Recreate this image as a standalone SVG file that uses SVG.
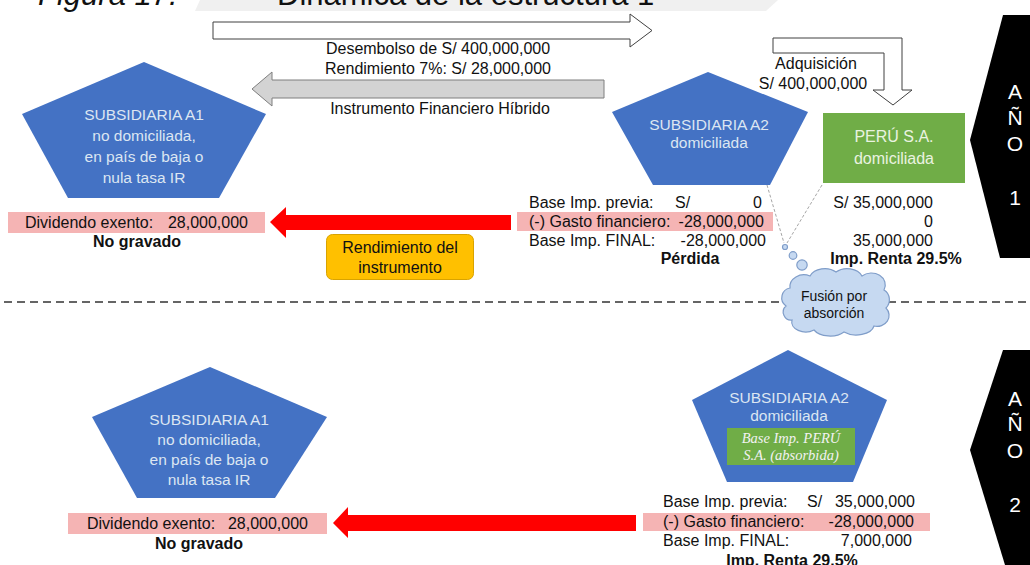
<svg xmlns="http://www.w3.org/2000/svg" width="1030" height="565" viewBox="0 0 1030 565">
  <style>
    text { font-family: "Liberation Sans", Arial, sans-serif; }
    .t16 { font-size: 16px; fill: #111; }
    .b16 { font-size: 16px; font-weight: bold; fill: #111; }
    .pent { fill: #4472C4; }
    .pent-t { font-size: 15.5px; fill: #DCE6F2; text-anchor: middle; }
    .green { fill: #70AD47; }
    .pink { fill: #F5B4B4; }
    .red { fill: #FF0000; }
    .hollow { fill: #FFFFFF; stroke: #404040; stroke-width: 1; }
    .year { fill: #000000; }
    .year-t { font-size: 21px; fill: #FFFFFF; text-anchor: middle; }
    .cloud { fill: #C6D9F1; stroke: #7F9DC9; stroke-width: 1.2; }
    .guide { stroke: #A6A6A6; stroke-width: 1; stroke-dasharray: 3 2; fill: none; }
    .serif-i { font-family: "Liberation Serif", "Times New Roman", serif; font-style: italic; font-size: 14.5px; fill: #F2F2F2; text-anchor: middle; }
    .r { text-anchor: end; }
    .m { text-anchor: middle; }
  </style>

  <rect width="1030" height="565" fill="#FFFFFF"/>

  <!-- caption strip at the top edge -->
  <g id="caption">
    <polygon points="200,0 778,0 766,11 195,11" fill="#F0F0F0"/>
    <text x="38" y="5" font-size="31" font-style="italic" fill="#111">Figura 17.</text>
    <text x="277" y="5" font-size="31" fill="#111">Dinámica de la estructura 1</text>
  </g>

  <!-- year bands -->
  <g id="year-1">
    <polygon class="year" points="1003,15 1030,15 1030,258 1000,258 970,140"/>
    <text class="year-t" x="1015" y="99">A</text>
    <text class="year-t" x="1015" y="125">Ñ</text>
    <text class="year-t" x="1015" y="151">O</text>
    <text class="year-t" x="1015" y="205">1</text>
  </g>
  <g id="year-2">
    <polygon class="year" points="1003,350 1030,350 1030,565 1005,565 970,450"/>
    <text class="year-t" x="1015" y="406">A</text>
    <text class="year-t" x="1015" y="431">Ñ</text>
    <text class="year-t" x="1015" y="458">O</text>
    <text class="year-t" x="1015" y="512">2</text>
  </g>

  <!-- separator between years -->
  <line x1="4" y1="302" x2="1030" y2="302" stroke="#333" stroke-width="1.5" stroke-dasharray="8 5"/>

  <g id="connectors">
    <!-- disbursement (right) -->
    <polygon class="hollow" points="213,22 630,22 630,14 652,30.5 630,47 630,39 213,39"/>
    <!-- yield (left) -->
    <polygon points="604,80 272,80 272,72 252,89 272,106 272,98 604,98" fill="#D3D3D3" stroke="#7F7F7F" stroke-width="1"/>
    <!-- acquisition (bent down) -->
    <polygon class="hollow" points="773,38 902,38 902,90 912,90 893,105 873,90 884,90 884,53 773,53"/>
    <!-- dividend arrows -->
    <polygon class="red" points="511,215 286,215 286,207 270,222 286,238 286,230 511,230"/>
    <polygon class="red" points="636,515 348,515 348,507 333,523 348,538 348,531 636,531"/>
    <!-- merger thought links -->
    <line class="guide" x1="767" y1="185" x2="784" y2="243"/>
    <line class="guide" x1="822" y1="185" x2="787" y2="243"/>
  </g>

  <g id="flow-labels">
    <text class="t16 m" x="438" y="54">Desembolso de S/ 400,000,000</text>
    <text class="t16 m" x="438" y="74">Rendimiento 7%: S/ 28,000,000</text>
    <text class="t16 m" x="440" y="114">Instrumento Financiero Híbrido</text>
    <text class="t16 m" x="816" y="69">Adquisición</text>
    <text class="t16 m" x="813" y="89">S/ 400,000,000</text>
  </g>

  <!-- Year 1 -->
  <g id="a1-year1">
    <polygon class="pent" points="144,62 266,114 219,198 68,198 22,114"/>
    <text class="pent-t" x="144" y="120">SUBSIDIARIA A1</text>
    <text class="pent-t" x="144" y="141">no domiciliada,</text>
    <text class="pent-t" x="144" y="162">en país de baja o</text>
    <text class="pent-t" x="144" y="183">nula tasa IR</text>
  </g>
  <g id="a1-year1-result">
    <rect class="pink" x="8" y="212" width="257" height="21"/>
    <text class="t16" x="25" y="228">Dividendo exento:</text>
    <text class="t16 r" x="248" y="228">28,000,000</text>
    <text class="b16 m" x="137" y="247">No gravado</text>
  </g>
  <g id="yield-note">
    <rect x="326.5" y="234.5" width="147" height="45" rx="6" fill="#FFC000" stroke="#D9A300" stroke-width="1"/>
    <text class="t16 m" x="400" y="253">Rendimiento del</text>
    <text class="t16 m" x="400" y="273">instrumento</text>
  </g>
  <g id="a2-year1">
    <polygon class="pent" points="708,72 808,112 770,185 653,185 612,112"/>
    <text class="pent-t" x="709" y="130">SUBSIDIARIA A2</text>
    <text class="pent-t" x="709" y="148">domiciliada</text>
  </g>
  <g id="peru-year1">
    <rect class="green" x="823" y="113" width="142" height="70"/>
    <text class="m" x="894" y="142" font-size="16" fill="#EAF3E0">PERÚ S.A.</text>
    <text class="m" x="894" y="164" font-size="16" fill="#EAF3E0">domiciliada</text>
  </g>
  <g id="a2-year1-table">
    <rect class="pink" x="517" y="212" width="256" height="19"/>
    <text class="t16" x="529" y="208">Base Imp. previa:</text>
    <text class="t16" x="675" y="208">S/</text>
    <text class="t16 r" x="762" y="208">0</text>
    <text class="t16" x="529" y="227">(-) Gasto financiero:</text>
    <text class="t16 r" x="764" y="227">-28,000,000</text>
    <text class="t16" x="529" y="246">Base Imp. FINAL:</text>
    <text class="t16 r" x="766" y="246">-28,000,000</text>
    <text class="b16 m" x="690" y="264">Pérdida</text>
  </g>
  <g id="peru-year1-table">
    <text class="t16 r" x="933" y="208">S/ 35,000,000</text>
    <text class="t16 r" x="933" y="227">0</text>
    <text class="t16 r" x="933" y="246">35,000,000</text>
    <text class="b16 m" x="896" y="264">Imp. Renta 29.5%</text>
  </g>

  <!-- merger bubble -->
  <g id="merger">
    <circle class="cloud" cx="785" cy="247" r="2.5"/>
    <circle class="cloud" cx="793" cy="255.5" r="3.8"/>
    <circle class="cloud" cx="802" cy="265" r="5.2"/>
    <path class="cloud" d="M786,306 a10,10 0 0 1 4,-18 a14,12 0 0 1 20,-12 a16,12 0 0 1 26,-4 a16,12 0 0 1 26,4 a14,12 0 0 1 22,14 a10,11 0 0 1 2,18 a12,11 0 0 1 -12,18 a18,11 0 0 1 -30,6 a18,11 0 0 1 -30,-2 a14,10 0 0 1 -22,-10 a8,8 0 0 1 -6,-14 Z"/>
    <text class="m" x="834" y="301" font-size="14" fill="#111">Fusión por</text>
    <text class="m" x="834" y="318" font-size="14" fill="#111">absorción</text>
  </g>

  <!-- Year 2 -->
  <g id="a1-year2">
    <polygon class="pent" points="210,367 327,417 275,498 137,498 92,417"/>
    <text class="pent-t" x="209" y="425">SUBSIDIARIA A1</text>
    <text class="pent-t" x="209" y="445">no domiciliada,</text>
    <text class="pent-t" x="209" y="465">en país de baja o</text>
    <text class="pent-t" x="209" y="485">nula tasa IR</text>
  </g>
  <g id="a1-year2-result">
    <rect class="pink" x="68" y="513" width="259" height="21"/>
    <text class="t16" x="87" y="529">Dividendo exento:</text>
    <text class="t16 r" x="308" y="529">28,000,000</text>
    <text class="b16 m" x="199" y="549">No gravado</text>
  </g>
  <g id="a2-year2">
    <polygon class="pent" points="788,350 887,400 853,482 727,482 692,400"/>
    <text class="pent-t" x="789" y="403">SUBSIDIARIA A2</text>
    <text class="pent-t" x="789" y="421">domiciliada</text>
    <rect class="green" x="727" y="428" width="128" height="37"/>
    <text class="serif-i" x="791" y="443">Base Imp. PERÚ</text>
    <text class="serif-i" x="791" y="460">S.A. (absorbida)</text>
  </g>
  <g id="a2-year2-table">
    <rect class="pink" x="643" y="513" width="287" height="18"/>
    <text class="t16" x="663" y="507">Base Imp. previa:</text>
    <text class="t16" x="807" y="507">S/</text>
    <text class="t16 r" x="915" y="507">35,000,000</text>
    <text class="t16" x="663" y="527">(-) Gasto financiero:</text>
    <text class="t16 r" x="914" y="527">-28,000,000</text>
    <text class="t16" x="663" y="546">Base Imp. FINAL:</text>
    <text class="t16 r" x="912" y="546">7,000,000</text>
    <text class="b16 m" x="792" y="566">Imp. Renta 29.5%</text>
  </g>
</svg>
